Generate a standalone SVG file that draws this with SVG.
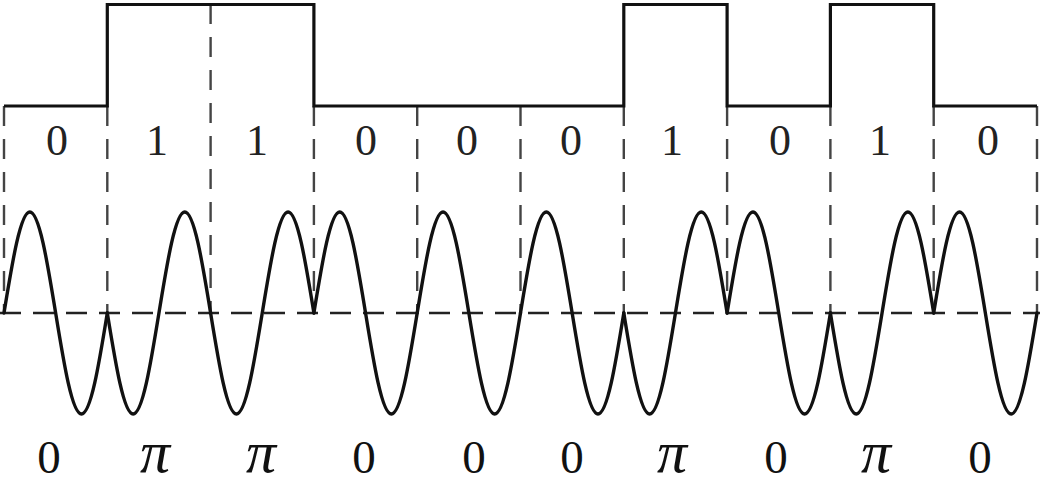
<svg xmlns="http://www.w3.org/2000/svg" width="1040" height="493" viewBox="0 0 1040 493">
<style>
.sq{fill:none;stroke:#111;stroke-width:3.2;stroke-linejoin:miter}
.dash{fill:none;stroke:#444;stroke-width:2.4;stroke-dasharray:20 13}
.axis{fill:none;stroke:#222;stroke-width:2.4;stroke-dasharray:21 12}
.wave{fill:none;stroke:#111;stroke-width:3.4;stroke-linecap:round;stroke-linejoin:round}
.bit{font-family:"Liberation Serif","Times New Roman",serif;font-size:44px;fill:#222;text-anchor:middle}
.ph{font-family:"Liberation Serif","Times New Roman",serif;font-size:47px;fill:#111;text-anchor:middle}
.pi{font-family:"Liberation Serif","Times New Roman",serif;font-size:60px;font-style:italic;fill:#111;text-anchor:middle}
</style>
<defs>
<path id="p0" d="M0,0 c8.42,-51.74 16.48,-101 25.825,-101 c9.35,0 17.41,49.26 25.825,101 c8.42,51.74 16.48,101 25.825,101 c9.35,0 17.41,-49.26 25.825,-101"/>
<path id="p1" d="M0,0 c8.42,51.74 16.48,101 25.825,101 c9.35,0 17.41,-49.26 25.825,-101 c8.42,-51.74 16.48,-101 25.825,-101 c9.35,0 17.41,49.26 25.825,101"/>
</defs>
<g id="guides">
<path class="dash" d="M4,106 V313 M107.3,106 V313 M210.6,4 V313 M313.9,106 V313 M417.2,106 V313 M520.5,106 V313 M623.8,106 V313 M727.1,106 V313 M830.4,106 V313 M933.7,106 V313 M1037,106 V313"/>
<path class="axis" d="M0,313 H1040"/>
</g>
<g id="data-signal">
<path class="sq" d="M4,106 H107.3 V4.5 H313.9 V106 H623.8 V4.5 H727.1 V106 H830.4 V4.5 H933.7 V106 H1037"/>
</g>
<g id="bpsk-wave" class="wave">
<use href="#p0" transform="translate(4,313)"/>
<use href="#p1" transform="translate(107.3,313)"/>
<use href="#p1" transform="translate(210.6,313)"/>
<use href="#p0" transform="translate(313.9,313)"/>
<use href="#p0" transform="translate(417.2,313)"/>
<use href="#p0" transform="translate(520.5,313)"/>
<use href="#p1" transform="translate(623.8,313)"/>
<use href="#p0" transform="translate(727.1,313)"/>
<use href="#p1" transform="translate(830.4,313)"/>
<use href="#p0" transform="translate(933.7,313)"/>
</g>
<g id="bit-labels">
<text class="bit" x="57" y="155">0</text>
<text class="bit" x="157" y="155">1</text>
<text class="bit" x="257" y="155">1</text>
<text class="bit" x="366" y="155">0</text>
<text class="bit" x="467" y="155">0</text>
<text class="bit" x="571" y="155">0</text>
<text class="bit" x="672" y="155">1</text>
<text class="bit" x="780" y="155">0</text>
<text class="bit" x="880" y="155">1</text>
<text class="bit" x="988" y="155">0</text>
</g>
<g id="phase-labels">
<text class="ph" x="49" y="473">0</text>
<text class="pi" x="155" y="472">π</text>
<text class="pi" x="261" y="472">π</text>
<text class="ph" x="364" y="473">0</text>
<text class="ph" x="474" y="473">0</text>
<text class="ph" x="572" y="473">0</text>
<text class="pi" x="672" y="472">π</text>
<text class="ph" x="776" y="473">0</text>
<text class="pi" x="876" y="472">π</text>
<text class="ph" x="980" y="473">0</text>
</g>
</svg>
